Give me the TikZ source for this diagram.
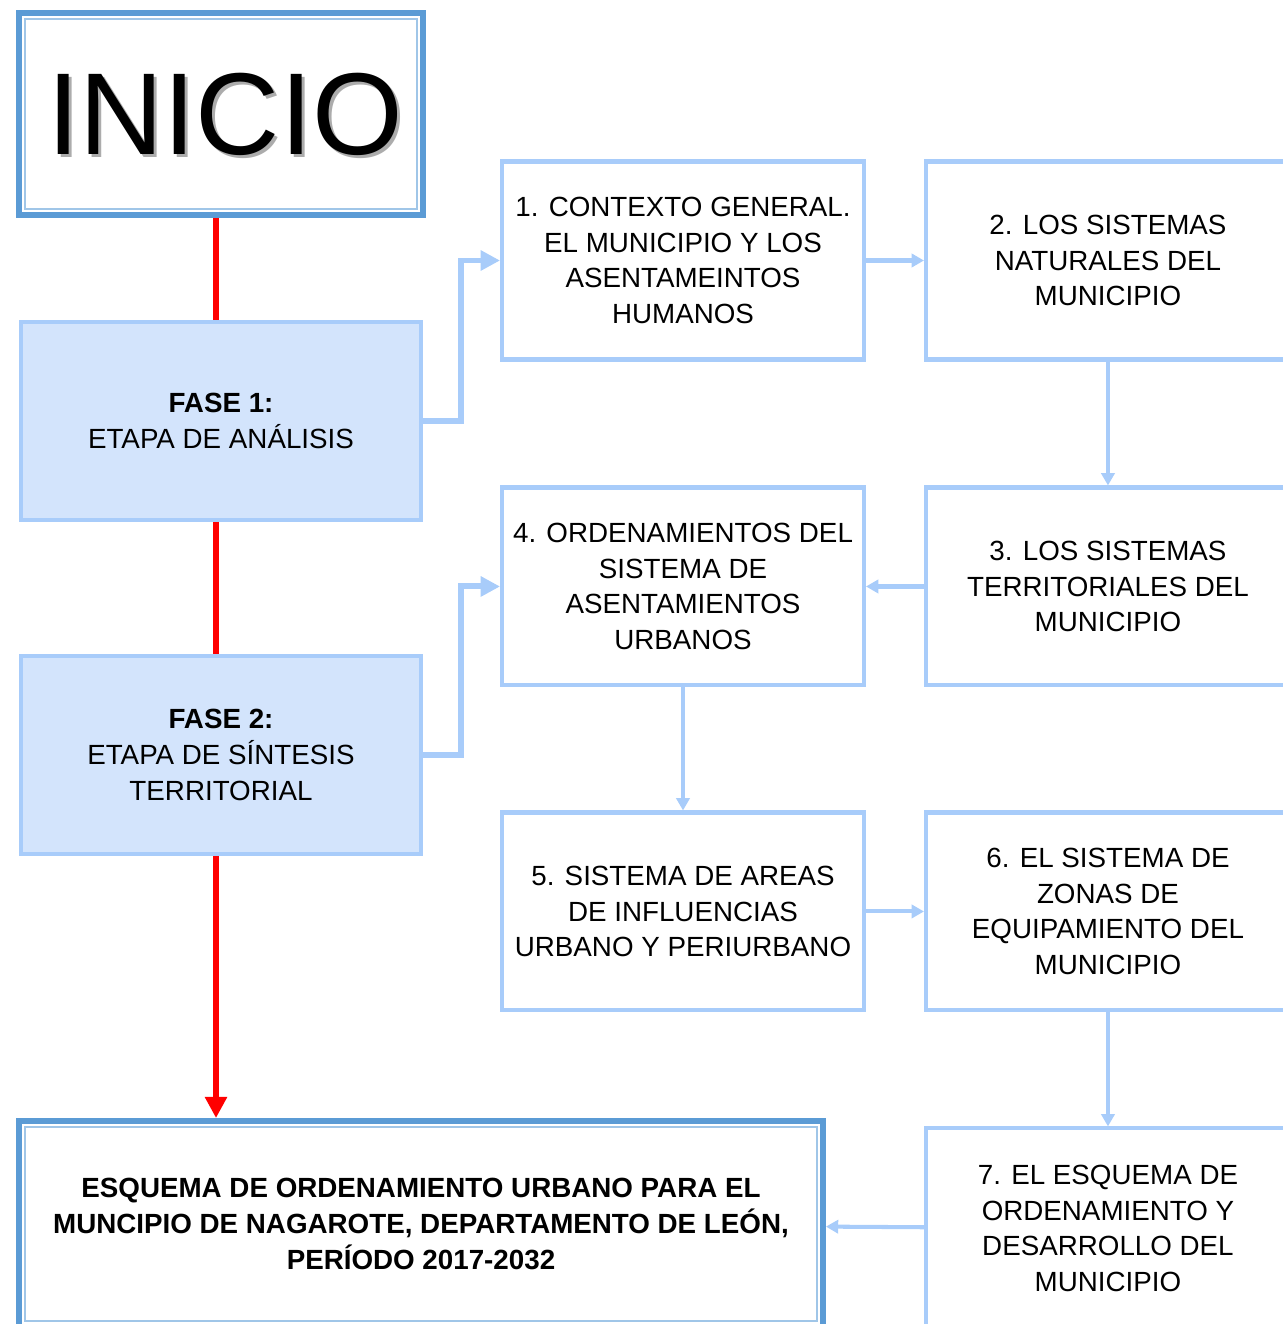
\documentclass[tikz,border=0pt]{standalone}
\usepackage{fontspec}
\setmainfont{Liberation Sans}
\usetikzlibrary{positioning,arrows.meta}

\definecolor{boxline}{RGB}{168,204,250}
\definecolor{phasefill}{RGB}{211,228,252}
\definecolor{darkline}{RGB}{91,155,213}
\definecolor{innerline}{RGB}{160,198,232}

\newcommand\boxfont{\fontsize{15.8}{20.4}\selectfont}
\newcommand\titlefont{\fontsize{66.3}{66.3}\selectfont}

\begin{document}
\begin{tikzpicture}[x=0.02cm, y=-0.02cm,
	stepbox/.style={draw=boxline, line width=2.3pt, minimum width=7.24cm, minimum height=3.96cm, align=center, inner sep=0pt, font=\boxfont},
	phasebox/.style={stepbox, fill=phasefill, minimum width=8cm},
	framebox/.style={draw=darkline, line width=3.4pt, align=center, inner sep=0pt},
	inframe/.style={draw=innerline, line width=1.1pt},
	flow/.style={draw=boxline, line width=2.3pt, -{Triangle[length=7pt,width=7.5pt]}},
	branch/.style={draw=boxline, line width=3.4pt, -{Triangle[length=11pt,width=11pt]}},
	mainline/.style={draw=red, line width=3.6pt}]
	\useasboundingbox (0,0) rectangle (1282,1324);

	% left column
	\node (inicioshade) [text=gray!65, font=\titlefont] at (228,117) {INICIO};
	\node (inicio) [framebox, minimum width=8.08cm, minimum height=4.04cm] at (221,114) {};
	\node (iniciotext) [font=\titlefont] at (225,114) {INICIO};
	\node (fase1) [phasebox, below=2.04cm of inicio] {\textbf{FASE 1:}\\ETAPA DE ANÁLISIS};
	\node (fase2) [phasebox, below=2.64cm of fase1] {\textbf{FASE 2:}\\ETAPA DE SÍNTESIS\\TERRITORIAL};
	\node (final) [framebox, minimum width=16.08cm, minimum height=4.12cm, font=\boxfont\bfseries] at (421,1224) {ESQUEMA DE ORDENAMIENTO URBANO PARA EL\\MUNCIPIO DE NAGAROTE, DEPARTAMENTO DE LEÓN,\\PERÍODO 2017-2032};
	\draw[inframe] ([shift={(0.18cm,-0.18cm)}]inicio.north west) rectangle ([shift={(-0.18cm,0.18cm)}]inicio.south east);
	\draw[inframe] ([shift={(0.18cm,-0.18cm)}]final.north west) rectangle ([shift={(-0.18cm,0.18cm)}]final.south east);

	% steps
	\node (box1) [stepbox] at (683,260.5) {1. CONTEXTO GENERAL.\\EL MUNICIPIO Y LOS\\ASENTAMEINTOS\\HUMANOS};
	\node (box2) [stepbox, minimum width=7.28cm, right=1.16cm of box1] {2. LOS SISTEMAS\\NATURALES DEL\\MUNICIPIO};
	\node (box3) [stepbox, minimum width=7.28cm, below=2.48cm of box2] {3. LOS SISTEMAS\\TERRITORIALES DEL\\MUNICIPIO};
	\node (box4) [stepbox, left=1.16cm of box3] {4. ORDENAMIENTOS DEL\\SISTEMA DE\\ASENTAMIENTOS\\URBANOS};
	\node (box5) [stepbox, below=2.46cm of box4] {5. SISTEMA DE AREAS\\DE INFLUENCIAS\\URBANO Y PERIURBANO};
	\node (box6) [stepbox, minimum width=7.28cm, right=1.16cm of box5] {6. EL SISTEMA DE\\ZONAS DE\\EQUIPAMIENTO DEL\\MUNICIPIO};
	\node (box7) [stepbox, minimum width=7.28cm, minimum height=4cm, below=2.28cm of box6] {7. EL ESQUEMA DE\\ORDENAMIENTO Y\\DESARROLLO DEL\\MUNICIPIO};

	\draw[mainline] ([xshift=-0.1cm]inicio.south) -- ([xshift=-0.1cm]fase1.north);
	\draw[mainline] ([xshift=-0.1cm]fase1.south) -- ([xshift=-0.1cm]fase2.north);
	\draw[mainline, -{Triangle[length=12pt,width=12pt]}] ([xshift=-0.1cm]fase2.south) -- ([xshift=-0.1cm]fase2.south |- final.north);

	\draw[branch] (fase1.east) -- ++(38,0) |- (box1.west);
	\draw[branch] (fase2.east) -- ++(38,0) |- (box4.west);
	\draw[flow] (box1) -- (box2);
	\draw[flow] (box2) -- (box3);
	\draw[flow] (box3) -- (box4);
	\draw[flow] (box4) -- (box5);
	\draw[flow] (box5) -- (box6);
	\draw[flow] (box6) -- (box7);
	\draw[flow] (box7) -- (final);
\end{tikzpicture}
\end{document}
